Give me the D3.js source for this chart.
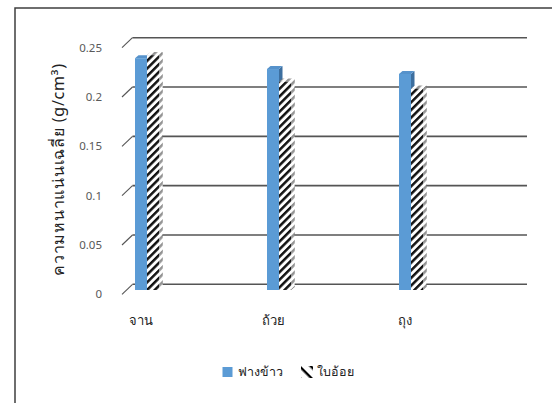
<!DOCTYPE html>
<html>
<head>
<meta charset="utf-8">
<script src="https://cdn.jsdelivr.net/npm/d3@7"></script>
<style>
  html, body { margin: 0; padding: 0; background: #fff; }
  svg { display: block; }
  text { font-family: Tahoma, "Noto Sans", "DejaVu Sans", sans-serif; }
</style>
</head>
<body>
<script>
// Average density of moulded items by container type and fibre source
const categories = ["จาน", "ถ้วย", "ถุง"];
const seriesNames = ["ฟางข้าว", "ใบอ้อย"];
const strawValues = [0.235, 0.224, 0.219];
const caneLeafValues = [0.238, 0.211, 0.204];
const tickValues = [0, 0.05, 0.1, 0.15, 0.2, 0.25];
const tickLabels = ["0", "0.05", "0.1", "0.15", "0.2", "0.25"];
const yTitle = "ความหนาแน่นเฉลี่ย (g/cm³)";

const W = 552, H = 403;
const svg = d3.select("body").append("svg").attr("width", W).attr("height", H);

const defs = svg.append("defs");
// diagonal hatch used for the second series
const hatch = defs.append("pattern")
  .attr("id", "hatch").attr("patternUnits", "userSpaceOnUse")
  .attr("width", 5.4).attr("height", 5.4)
  .attr("patternTransform", "rotate(-45)");
hatch.append("rect").attr("width", 5.4).attr("height", 5.4).attr("fill", "#fff");
hatch.append("rect").attr("width", 5.4).attr("height", 2.5).attr("fill", "#111");

const hatchKey = defs.append("pattern")
  .attr("id", "hatchKey").attr("patternUnits", "userSpaceOnUse")
  .attr("x", 301).attr("y", 366)
  .attr("width", 8).attr("height", 8)
  .attr("patternTransform", "rotate(45)");
hatchKey.append("rect").attr("width", 8).attr("height", 8).attr("fill", "#fff");
hatchKey.append("rect").attr("width", 8).attr("height", 2.4).attr("fill", "#000");

svg.append("rect").attr("width", W).attr("height", H).attr("fill", "#fff");

// chart frame (top and left edges)
svg.append("path")
  .attr("d", `M15,${H} L15,8 L${W},8`)
  .attr("fill", "none").attr("stroke", "#3f3f3f").attr("stroke-width", 1.5);

// front plane scales; back wall sits one depth step behind
const depth = { dx: 10.5, dy: 10 };
const y = d3.scaleLinear().domain([0, 0.25]).range([294.3, 47.7]);
const frontLeft = 122, frontRight = 516.5;
const x = d3.scalePoint().domain(categories).range([141, 405]);

// back-wall gridlines and the floor-depth ticks on the left
const grid = svg.append("g");
tickValues.forEach((v, i) => {
  grid.append("line")
    .attr("x1", frontLeft + depth.dx).attr("x2", frontRight + depth.dx)
    .attr("y1", y(v) - depth.dy).attr("y2", y(v) - depth.dy)
    .attr("stroke", "#555").attr("stroke-width", 1.6);
  grid.append("line")
    .attr("x1", frontLeft).attr("y1", y(v))
    .attr("x2", frontLeft + depth.dx).attr("y2", y(v) - depth.dy)
    .attr("stroke", "#555").attr("stroke-width", 1.1);
  grid.append("text")
    .attr("x", 102).attr("y", y(v)).attr("dy", "0.35em")
    .attr("text-anchor", "end").attr("font-size", 11.5)
    .attr("fill", "#595959")
    .text(tickLabels[i]);
});

// columns: drawn slightly behind the front plane
const barShift = { dx: 0, dy: 4.3 };
const barW = 12;
const side = { dx: 3.5, dy: 3 };
const yBar = v => y(v) - barShift.dy;

function column(g, x0, v, front, top, sideFill, overlay) {
  const x1 = x0 + barW, yt = yBar(v), yb = yBar(0);
  const sidePath = `M${x1},${yb} L${x1},${yt} L${x1 + side.dx},${yt - side.dy} L${x1 + side.dx},${yb - side.dy} Z`;
  const topPath = `M${x0},${yt} L${x1},${yt} L${x1 + side.dx},${yt - side.dy} L${x0 + side.dx},${yt - side.dy} Z`;
  g.append("path").attr("d", sidePath).attr("fill", sideFill);
  if (overlay) g.append("path").attr("d", sidePath).attr("fill", "#fff").attr("opacity", 0.55);
  g.append("path").attr("d", topPath).attr("fill", top);
  if (overlay) g.append("path").attr("d", topPath).attr("fill", "#fff").attr("opacity", 0.55);
  g.append("rect")
    .attr("x", x0).attr("y", yt).attr("width", barW).attr("height", yb - yt)
    .attr("fill", front);
}

const bars = svg.append("g");
categories.forEach((c, i) => {
  column(bars, x(c) - 6, strawValues[i], "#5b9bd5", "#5692cb", "#3d6f9f", false);
  column(bars, x(c) - 6 + barW, caneLeafValues[i], "url(#hatch)", "url(#hatch)", "url(#hatch)", true);
});

// category labels
svg.append("g").selectAll("text").data(categories).join("text")
  .attr("x", d => x(d)).attr("y", 320).attr("dy", "0.35em")
  .attr("text-anchor", "middle").attr("font-size", 13).attr("fill", "#222")
  .text(d => d);

// y-axis title
svg.append("text")
  .attr("transform", "translate(58,170) rotate(-90)")
  .attr("text-anchor", "middle").attr("dy", "0.35em")
  .attr("font-size", 16).attr("fill", "#222")
  .attr("textLength", 212).attr("lengthAdjust", "spacing")
  .text(yTitle);

// legend
const lg = svg.append("g");
lg.append("rect").attr("x", 222.5).attr("y", 367).attr("width", 10).attr("height", 10).attr("fill", "#5b9bd5");
lg.append("text").attr("x", 238).attr("y", 372).attr("dy", "0.35em")
  .attr("font-size", 12.5).attr("fill", "#222").text(seriesNames[0]);
lg.append("rect").attr("x", 301).attr("y", 366).attr("width", 12).attr("height", 12).attr("fill", "url(#hatchKey)");
lg.append("text").attr("x", 317).attr("y", 372).attr("dy", "0.35em")
  .attr("font-size", 12.5).attr("fill", "#222").text(seriesNames[1]);
</script>
</body>
</html>
